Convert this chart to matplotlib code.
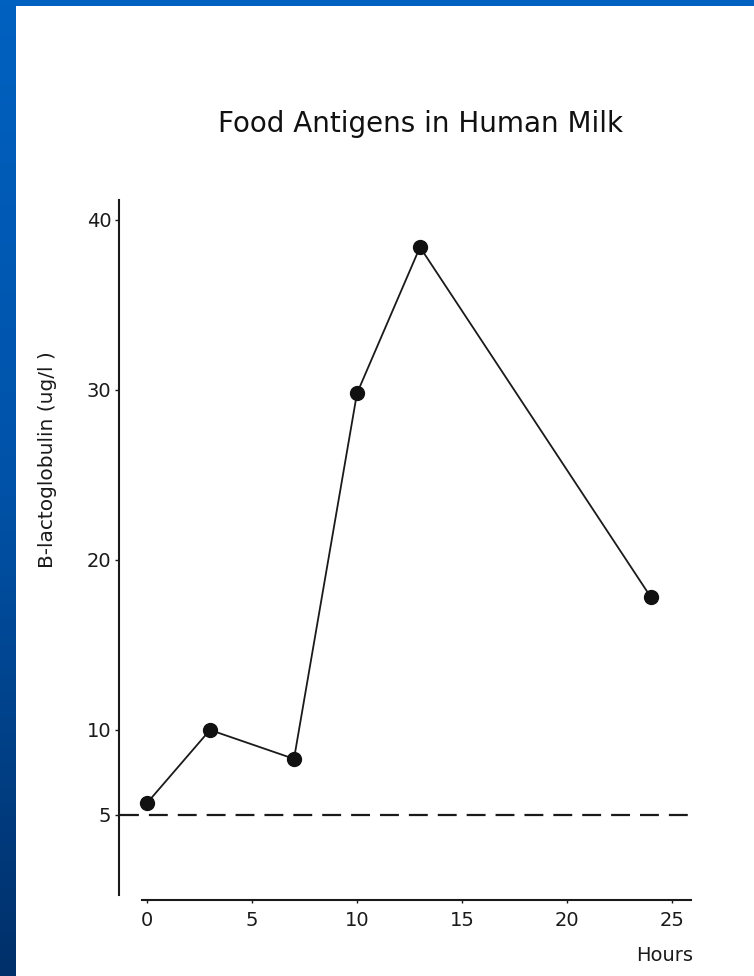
import numpy as np
import matplotlib
matplotlib.use("Agg")
import matplotlib.pyplot as plt
from matplotlib.colors import LinearSegmentedColormap

# Data
hours = [0, 3, 7, 10, 13, 24]
blg = [5.7, 10.0, 8.3, 29.8, 38.4, 17.8]
threshold = 5
x_ticks = [0, 5, 10, 15, 20, 25]
y_ticks = [5, 10, 20, 30, 40]

title = "Food Antigens in Human Milk"
ylabel = "B-lactoglobulin (ug/l )"
xlabel = "Hours"

plt.rcParams['font.family'] = ['DejaVu Sans']

fig = plt.figure(figsize=(7.54, 9.76), dpi=100)
fig.patch.set_facecolor('white')

# blue slide frame: top strip + left gradient strip
top = fig.add_axes([0, 1 - 6/976, 1, 6/976])
top.set_facecolor('#0061c0')
top.set_xticks([]); top.set_yticks([])
for s in top.spines.values(): s.set_visible(False)
left = fig.add_axes([0, 0, 16/754, 1])
cmap = LinearSegmentedColormap.from_list('frame', ['#0061c0', '#0052a8', '#00306a'])
left.imshow(np.linspace(0, 1, 256).reshape(-1, 1), aspect='auto', cmap=cmap)
left.set_xticks([]); left.set_yticks([])
for s in left.spines.values(): s.set_visible(False)

ax = fig.add_axes([0.1532, 0.0692, 0.7937, 0.7403])
ax.set_xlim(-1.5, 27)
ax.set_ylim(-0.5, 42)

# dashed reference level
ax.hlines(threshold, -1.3, 25.95, colors='#1a1a1a', linestyles=(0, (8.5, 4.5)), linewidth=1.6)
ax.plot(hours, blg, color='#1a1a1a', linewidth=1.3, marker='o', markersize=10,
        markerfacecolor='#111111', markeredgecolor='#111111', zorder=3)

ax.spines['top'].set_visible(False)
ax.spines['right'].set_visible(False)
ax.spines['left'].set_position(('data', -1.33))
ax.spines['left'].set_bounds(0.3, 41.2)
ax.spines['bottom'].set_position(('data', 0))
ax.spines['bottom'].set_bounds(-0.25, 25.9)
for s in ['left', 'bottom']:
    ax.spines[s].set_linewidth(1.5)
    ax.spines[s].set_color('#1a1a1a')

ax.set_xticks(x_ticks)
ax.set_yticks(y_ticks)
ax.tick_params(axis='y', length=3, width=1, pad=2.5, labelsize=14, colors='#1a1a1a')
ax.tick_params(axis='x', length=2, width=1, pad=6, labelsize=14, colors='#1a1a1a')

fig.text(420/754, 1 - 132/976, title, ha='center', va='baseline', fontsize=20, color='#111111')
fig.text(48/754, 1 - 460/976, ylabel, ha='center', va='center', rotation=90,
         fontsize=14.5, color='#1a1a1a')
fig.text(693/754, 1 - 961/976, xlabel, ha='right', va='baseline', fontsize=14, color='#1a1a1a')

fig.savefig('out.png', dpi=100)
